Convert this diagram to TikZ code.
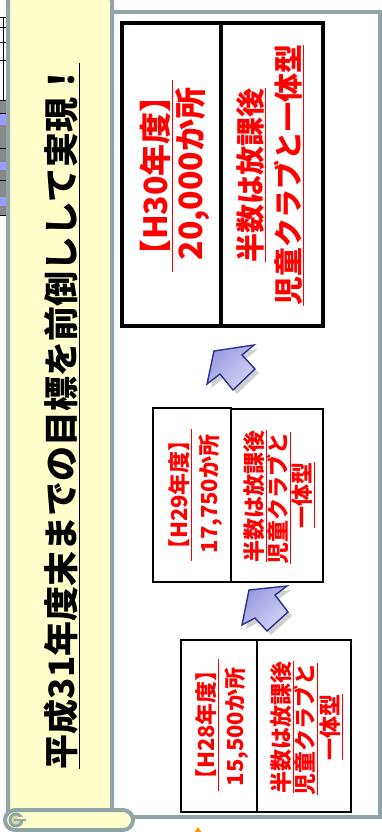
\documentclass[tikz,border=0pt]{standalone}
\usepackage{fontspec}
\newfontfamily\jp{Noto Sans CJK JP}
\definecolor{bordergray}{HTML}{8FA5A8}
\definecolor{scrollyellow}{HTML}{FFFFCC}
\definecolor{curlyellow}{HTML}{D8D8A0}
\definecolor{arrowblue}{HTML}{2E3192}
\definecolor{arrowlight}{HTML}{D4D4F6}
\definecolor{arrowdark}{HTML}{9A9AE0}
\definecolor{tablegray}{HTML}{888888}
\definecolor{barblue}{HTML}{9A9AFF}
\tikzset{
  frameline/.style={draw=bordergray, line width=4pt},
  scrollpart/.style={draw=bordergray, fill=scrollyellow, line width=4pt},
  bigcell/.style={draw=black, line width=4pt, fill=white, inner sep=0, minimum height=303pt},
  smallcell/.style={draw=black, line width=2pt, fill=white, inner sep=0},
  redtxt/.style={text=red, rotate=90, inner sep=0, font=\jp\bfseries},
  titletxt/.style={text=black, rotate=90, inner sep=0, font=\jp\bfseries\fontsize{35}{40}\selectfont},
  bigtxt/.style={redtxt, font=\jp\bfseries\fontsize{32}{36}\selectfont},
  midtxt/.style={redtxt, font=\jp\bfseries\fontsize{29}{34}\selectfont},
  smalltxt/.style={redtxt, font=\jp\bfseries\fontsize{22}{26}\selectfont},
  blockarrow/.style={draw=arrowblue, line width=1.4pt, line join=miter, top color=arrowdark, bottom color=arrowlight, shading angle=45},
  arrowshadow/.style={fill=black, opacity=0.18}
}
\begin{document}
\begin{tikzpicture}[x=1pt, y=-1pt]
\useasboundingbox (0,0) rectangle (382,832);
\clip (0,0) rectangle (382,832);
\fill[white] (0,0) rectangle (382,832);
% fragment of a neighbouring table at the left edge
\fill[tablegray] (0,100) rectangle (8,215);
\foreach \ya/\yb in {114/125, 162/170, 197/206}{\fill[barblue] (0,\ya) rectangle (8,\yb);}
\foreach \yy in {17,27,42,60,100,113,148,180,215}{\draw[black, line width=0.6pt] (0,\yy) -- (8,\yy);}
\draw[black, line width=0.8pt] (3,17) -- (3,100);
% white frame with grey border
\draw[frameline, fill=white] (112,12) rectangle (380,817);
% scroll: body and bottom roll
\draw[scrollpart, rounded corners=8pt] (8,818) -- (8,-6) -- (112,-6) -- (112,818);
\draw[scrollpart, rounded corners=10pt] (5,810) rectangle (133,830);
\draw[draw=bordergray, line width=3pt, fill=curlyellow] (16,820) circle (6);
\fill[scrollyellow] (18,817) rectangle (25,821);
\draw[bordergray, line width=2.5pt] (14,820) -- (26,820);
% title
\node[titletxt] (title) at (62,416) {\underline{平成31年度末までの目標を前倒しして実現！}};
% H30 box
\node[bigcell, minimum width=99pt] (h30l) at (171.5,174.5) {};
\node[bigcell, minimum width=102pt] (h30r) at (272,174.5) {};
\node[bigtxt] (h30a) at (156,176) {\underline{【H30年度】}};
\node[bigtxt] (h30b) at (193,174) {20,000か所};
\node[midtxt] (h30c) at (251,175) {\underline{半数は放課後}};
\node[midtxt] (h30d) at (289,175) {\underline{児童クラブと一体型}};
% arrow H29 -> H30
\fill[arrowshadow] (218,355) -- (258,349) -- (246,359) -- (259,373) -- (237,394) -- (224,378) -- (211,388) -- cycle;
\path[blockarrow] (214,351) -- (254,345) -- (242,355) -- (255,369) -- (233,390) -- (220,374) -- (207,384) -- cycle;
% H29 box
\node[smallcell, minimum width=78pt, minimum height=174pt] (h29l) at (192,495) {};
\node[smallcell, minimum width=92pt, minimum height=173pt] (h29r) at (277,495.5) {};
\node[smalltxt] (h29a) at (180,495) {\underline{【H29年度】}};
\node[smalltxt] (h29b) at (211,494) {17,750か所};
\node[smalltxt] (h29c) at (255,496) {\underline{半数は放課後}};
\node[smalltxt] (h29d) at (279,498) {\underline{児童クラブと}};
\node[smalltxt] (h29e) at (303,495) {\underline{一体型}};
% arrow H28 -> H29
\fill[arrowshadow] (253,594) -- (291,590) -- (279,599) -- (292,616) -- (271,635) -- (259,622) -- (246,629) -- cycle;
\path[blockarrow] (249,590) -- (287,586) -- (275,595) -- (288,612) -- (267,631) -- (255,618) -- (242,625) -- cycle;
% H28 box
\node[smallcell, minimum width=76pt, minimum height=172pt] (h28l) at (219,726) {};
\node[smallcell, minimum width=94pt, minimum height=172pt] (h28r) at (304,726) {};
\node[smalltxt] (h28a) at (207,725) {\underline{【H28年度】}};
\node[smalltxt] (h28b) at (237,727) {15,500か所};
\node[smalltxt] (h28c) at (282,727) {\underline{半数は放課後}};
\node[smalltxt] (h28d) at (306,729) {\underline{児童クラブと}};
\node[smalltxt] (h28e) at (331,727) {\underline{一体型}};
% tip of a shape below the frame
\fill[orange!80!yellow] (194,833) -- (198,827) -- (202,833) -- cycle;
\end{tikzpicture}
\end{document}
